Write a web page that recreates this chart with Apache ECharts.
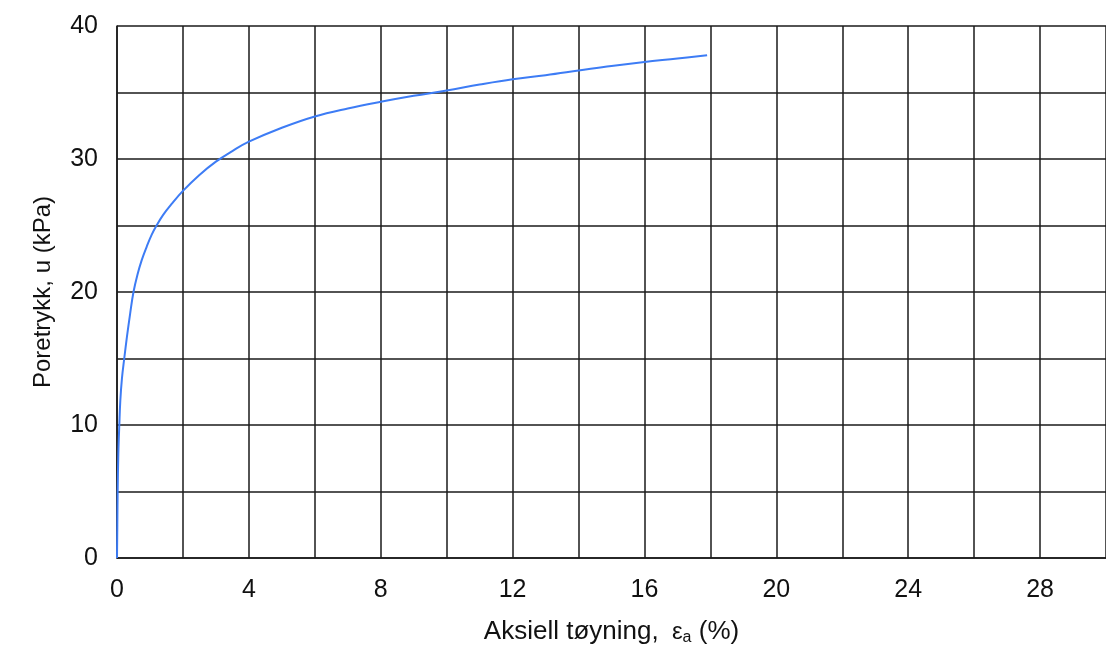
<!DOCTYPE html>
<html>
<head>
<meta charset="utf-8">
<script src="https://cdn.jsdelivr.net/npm/echarts@6/dist/echarts.min.js"></script>
<style>
html,body{margin:0;padding:0;background:#fff;}
#c{width:1106px;height:648px;}
</style>
</head>
<body>
<div id="c"></div>
<script>
// Axial strain (%)
const strain = [0, 0.01, 0.02, 0.04, 0.07, 0.1, 0.15, 0.22, 0.3, 0.4, 0.5, 0.62, 0.75, 0.9, 1.05, 1.2, 1.4, 1.65, 2.0, 2.5, 3.0, 3.5, 4.0, 5.0, 6.0, 7.0, 8.0, 9.0, 10.0, 11.0, 12.0, 13.0, 14.0, 15.0, 16.0, 17.0, 17.9];
// Pore pressure (kPa)
const porePressure = [0, 2.5, 5, 7.8, 10, 11.8, 13.5, 15, 16.6, 18.4, 20, 21.3, 22.4, 23.4, 24.3, 25, 25.8, 26.6, 27.6, 28.8, 29.8, 30.6, 31.3, 32.35, 33.2, 33.8, 34.3, 34.75, 35.15, 35.6, 36.0, 36.3, 36.65, 37.0, 37.3, 37.55, 37.8];
const xTickLabels = [0, 4, 8, 12, 16, 20, 24, 28];
const yTickLabels = [0, 10, 20, 30, 40];

const chart = echarts.init(document.getElementById('c'));
const font = '"Liberation Sans", Arial, sans-serif';
const gridLine = {show: true, lineStyle: {color: '#1a1a1a', width: 1.5}};
chart.setOption({
  backgroundColor: '#fff',
  animation: false,
  grid: {left: 117, right: 0, top: 26, bottom: 90, containLabel: false, outerBoundsMode: 'none'},
  xAxis: {
    type: 'value', min: 0, max: 30, interval: 2,
    axisLine: {show: true, lineStyle: {color: '#1a1a1a', width: 1.5}},
    axisTick: {show: false},
    splitLine: gridLine,
    axisLabel: {
      color: '#111', fontSize: 25, fontFamily: font, margin: 20,
      formatter: v => xTickLabels.includes(v) ? String(v) : ''
    },
    name: '{n|Aksiell tøyning, }{e|ε}{s|a}{n| (%)}',
    nameLocation: 'middle', nameGap: 60,
    nameTextStyle: {
      rich: {
        n: {fontSize: 26, fontFamily: font, color: '#111'},
        e: {fontSize: 24, fontFamily: font, color: '#111', padding: [0, 0, 0, 6]},
        s: {fontSize: 16, fontFamily: font, color: '#111', verticalAlign: 'bottom', padding: [12, 0, 0, 0]}
      }
    }
  },
  yAxis: {
    type: 'value', min: 0, max: 40, interval: 5,
    axisLine: {show: true, lineStyle: {color: '#1a1a1a', width: 1.5}},
    axisTick: {show: false},
    splitLine: gridLine,
    axisLabel: {
      color: '#111', fontSize: 25, fontFamily: font, margin: 19,
      formatter: v => yTickLabels.includes(v) ? String(v) : ''
    },
    name: 'Poretrykk, u (kPa)',
    nameLocation: 'middle', nameGap: 62,
    nameTextStyle: {fontSize: 24, fontFamily: font, color: '#111'}
  },
  series: [{
    type: 'line',
    data: strain.map((x, i) => [x, porePressure[i]]),
    smooth: 0.4,
    showSymbol: false,
    lineStyle: {color: '#3d7cf5', width: 2}
  }]
});
</script>
</body>
</html>
